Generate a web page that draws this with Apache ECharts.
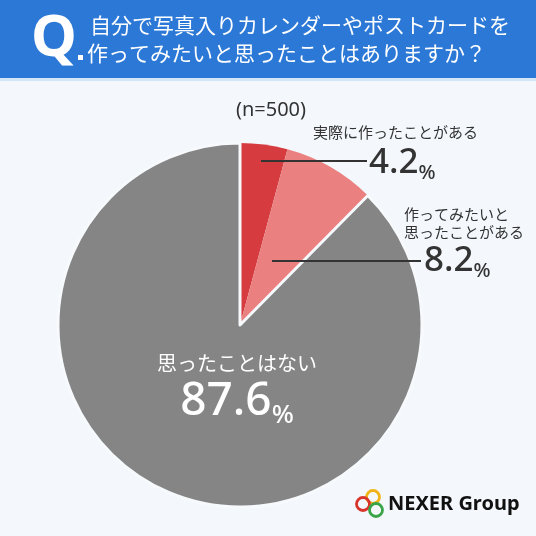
<!DOCTYPE html>
<html>
<head>
    <meta charset="UTF-8">
    <title>写真入りカレンダーやポストカード</title>
    <script src="https://cdn.jsdelivr.net/npm/echarts@6/dist/echarts.min.js"></script>
    <style>
        html, body {
            margin: 0;
            padding: 0;
            background: #f4f8fc;
        }
        #chartContainer {
            width: 536px;
            height: 536px;
        }
    </style>
</head>
<body>
<div id="chartContainer"></div>
<script>
    // データ
    var categories = ['実際に作ったことがある', '作ってみたいと\n思ったことがある', '思ったことはない'];
    var values = [4.2, 8.2, 87.6];
    var colors = ['#d63b3f', '#ea8080', '#858585'];
    var sampleLabel = '(n=500)';
    var titleLines = ['自分で写真入りカレンダーやポストカードを', '作ってみたいと思ったことはありますか？'];

    // ラベル位置 [x, y, align, 数字の左余白]
    var labelPos = [
        [313, 121, 'left', 56],
        [404, 205, 'left', 20],
        [237, 351, 'center', 0]
    ];
    // 引き出し線
    var leaderLines = [
        [[261, 161], [367, 161]],
        [[272, 261], [421, 261]]
    ];

    var jp = '"Noto Sans CJK JP", "Noto Sans", sans-serif';
    var numFont = '"Noto Sans", "Noto Sans CJK JP", sans-serif';

    function richFor(i) {
        var light = i === 2;
        var c = light ? '#ffffff' : '#333333';
        return {
            name: {
                fontFamily: jp,
                fontSize: light ? 20 : 15,
                lineHeight: light ? 24 : (i === 1 ? 18 : 22),
                color: c
            },
            num: {
                fontFamily: numFont,
                fontWeight: 500,
                fontSize: light ? 46 : 35,
                lineHeight: light ? 54 : 40,
                color: c,
                padding: [0, 0, 0, labelPos[i][3]]
            },
            pct: {
                fontFamily: numFont,
                fontWeight: 500,
                fontSize: light ? 26 : 20,
                lineHeight: light ? 34 : 26,
                verticalAlign: 'bottom',
                color: c
            }
        };
    }

    var pieData = [];
    for (var i = 0; i < values.length; i++) {
        pieData.push({
            name: categories[i],
            value: values[i],
            itemStyle: {
                color: colors[i],
                borderColor: i === 2 ? '#f7fafd' : colors[i],
                borderWidth: i === 2 ? 3 : 0
            },
            label: {rich: richFor(i)}
        });
    }

    var graphics = [
        {type: 'rect', shape: {x: 0, y: 0, width: 536, height: 78}, style: {fill: '#2b78d6'}},
        {type: 'rect', shape: {x: 0, y: 78, width: 536, height: 3}, style: {fill: '#d3e6f8'}},
        {type: 'text', x: 54, y: 39, style: {text: 'Q', fill: '#ffffff', font: 'bold 58px "Noto Sans", sans-serif', align: 'center', verticalAlign: 'middle'}},
        {type: 'rect', shape: {x: 78, y: 55, width: 5, height: 5}, style: {fill: '#ffffff'}},
        {type: 'text', x: 90, y: 25, style: {text: titleLines[0], fill: '#ffffff', font: '21px ' + jp, verticalAlign: 'middle'}},
        {type: 'text', x: 87, y: 53, style: {text: titleLines[1], fill: '#ffffff', font: '21px ' + jp, verticalAlign: 'middle'}},
        {type: 'text', x: 271, y: 110, style: {text: sampleLabel, fill: '#333333', font: '20px ' + numFont, align: 'center', verticalAlign: 'middle'}},
        // ロゴ
        {type: 'circle', shape: {cx: 373, cy: 497, r: 6.5}, style: {fill: 'none', stroke: '#f2b316', lineWidth: 2.8}},
        {type: 'circle', shape: {cx: 363, cy: 504, r: 6.5}, style: {fill: 'none', stroke: '#d9342b', lineWidth: 2.8}},
        {type: 'circle', shape: {cx: 376, cy: 510, r: 6.5}, style: {fill: 'none', stroke: '#3aa548', lineWidth: 2.8}},
        {type: 'text', x: 388, y: 504, style: {text: 'NEXER Group', fill: '#111111', font: 'bold 20px "Noto Sans", sans-serif', verticalAlign: 'middle'}}
    ];
    leaderLines.forEach(function (pts) {
        graphics.push({type: 'polyline', z: 10, shape: {points: pts}, style: {stroke: '#333333', lineWidth: 2}});
    });

    var myChart = echarts.init(document.getElementById('chartContainer'));
    var option = {
        backgroundColor: '#f4f8fc',
        animation: false,
        graphic: graphics,
        series: [{
            type: 'pie',
            center: [240, 325],
            radius: 182,
            startAngle: 90,
            clockwise: true,
            data: pieData,
            label: {
                show: true,
                position: 'outside',
                overflow: 'none',
                formatter: function (params) {
                    var parts = params.name.split('\n').map(function (s) {
                        return '{name|' + s + '}';
                    });
                    return parts.join('\n') + '\n{num|' + params.value + '}{pct|%}';
                }
            },
            labelLine: {show: false},
            labelLayout: function (params) {
                var p = labelPos[params.dataIndex];
                return {x: p[0], y: p[1], align: p[2], verticalAlign: 'top'};
            },
            emphasis: {disabled: true}
        }]
    };
    myChart.setOption(option);
</script>
</body>
</html>
